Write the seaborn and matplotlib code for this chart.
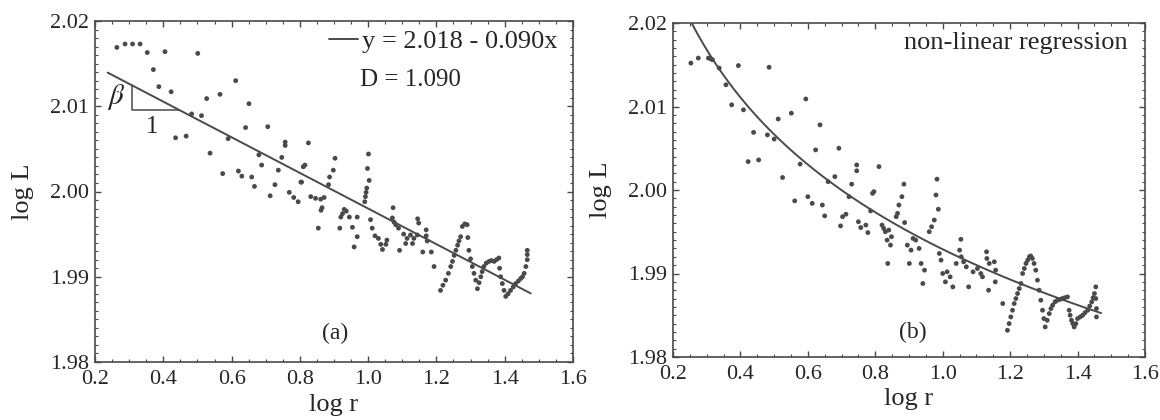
import numpy as np
import pandas as pd
import matplotlib
matplotlib.use("Agg")
import matplotlib.pyplot as plt
from matplotlib.ticker import MultipleLocator, FormatStrFormatter
import seaborn as sns

# panel (a): log r vs log L
xa = [0.264, 0.288, 0.310, 0.332, 0.353, 0.405, 0.501, 0.371, 0.612, 0.387,
      0.423, 0.527, 0.566, 0.651, 0.483, 0.512, 0.436, 0.467, 0.641, 0.706,
      0.590, 0.537, 0.757, 0.757, 0.680, 0.688, 0.747, 0.574, 0.620, 0.630,
      0.659, 0.667, 0.727, 0.713, 0.737, 0.769, 0.782, 0.795, 0.810, 0.803,
      0.825, 0.815, 0.805, 0.903, 0.898, 0.887, 0.884, 1.001, 0.998, 1.003,
      0.996, 0.994, 0.992, 0.990, 0.832, 0.846, 0.861, 0.871, 0.865, 0.862,
      0.854, 0.917, 0.930, 0.936, 0.925, 0.920, 0.945, 0.968, 0.954, 0.968,
      0.959, 1.007, 1.012, 1.020, 1.030, 1.037, 1.042, 1.055, 1.052, 1.073,
      1.071, 1.076, 1.081, 1.089, 1.092, 1.104, 1.114, 1.124, 1.134, 1.144,
      1.110, 1.130, 1.145, 1.148, 1.170, 1.170, 1.173, 1.160, 1.185, 1.193,
      1.212, 1.219, 1.227, 1.235, 1.242, 1.247, 1.252, 1.257, 1.262, 1.266,
      1.271, 1.276, 1.283, 1.290, 1.292, 1.295, 1.300, 1.305, 1.310, 1.315,
      1.320, 1.325, 1.330, 1.334, 1.339, 1.346, 1.354, 1.361, 1.369, 1.376,
      1.383, 1.385, 1.388, 1.393, 1.398, 1.403, 1.410, 1.417, 1.425, 1.432,
      1.440, 1.447, 1.452, 1.457, 1.462, 1.466, 1.466, 1.466]
ya = [2.0169, 2.0173, 2.0173, 2.0173, 2.0163, 2.0164, 2.0162, 2.0143, 2.0130, 2.0123,
      2.0117, 2.0109, 2.0114, 2.0103, 2.0091, 2.0089, 2.0063, 2.0065, 2.0075, 2.0076,
      2.0062, 2.0045, 2.0058, 2.0054, 2.0043, 2.0031, 2.0040, 2.0021, 2.0024, 2.0018,
      2.0017, 2.0006, 2.0008, 1.9995, 2.0025, 1.9999, 1.9993, 1.9988, 2.0029, 2.0011,
      2.0057, 2.0031, 2.0011, 2.0039, 2.0025, 2.0017, 2.0008, 2.0044, 2.0027, 2.0013,
      2.0004, 1.9999, 1.9994, 1.9988, 1.9994, 1.9992, 1.9991, 1.9993, 1.9981, 1.9978,
      1.9957, 1.9957, 1.9979, 1.9977, 1.9974, 1.9970, 1.9970, 1.9970, 1.9958, 1.9947,
      1.9935, 1.9967, 1.9957, 1.9948, 1.9945, 1.9938, 1.9932, 1.9943, 1.9938, 1.9981,
      1.9969, 1.9964, 1.9961, 1.9957, 1.9931, 1.9950, 1.9945, 1.9949, 1.9945, 1.9949,
      1.9939, 1.9939, 1.9968, 1.9963, 1.9955, 1.9948, 1.9942, 1.9929, 1.9929, 1.9912,
      1.9884, 1.9890, 1.9896, 1.9904, 1.9912, 1.9918, 1.9925, 1.9931, 1.9937, 1.9942,
      1.9947, 1.9959, 1.9962, 1.9961, 1.9946, 1.9931, 1.9921, 1.9912, 1.9904, 1.9896,
      1.9886, 1.9893, 1.9900, 1.9906, 1.9912, 1.9916, 1.9918, 1.9919, 1.9918, 1.9920,
      1.9922, 1.9910, 1.9900, 1.9892, 1.9884, 1.9877, 1.9880, 1.9884, 1.9888, 1.9892,
      1.9895, 1.9898, 1.9900, 1.9904, 1.9912, 1.9920, 1.9926, 1.9931]

# panel (b)
xb = [0.253, 0.275, 0.305, 0.312, 0.317, 0.337, 0.394, 0.485, 0.357, 0.374,
      0.409, 0.594, 0.551, 0.512, 0.636, 0.439, 0.480, 0.500, 0.623, 0.692,
      0.423, 0.454, 0.577, 0.745, 0.745, 0.811, 0.525, 0.680, 0.660, 0.730,
      0.796, 0.792, 0.722, 0.561, 0.600, 0.613, 0.643, 0.650, 0.786, 0.703,
      0.713, 0.697, 0.750, 0.757, 0.772, 0.778, 0.825, 0.820, 0.830, 0.840,
      0.848, 0.835, 0.845, 0.837, 0.885, 0.879, 0.870, 0.866, 0.862, 0.887,
      0.895, 0.906, 0.901, 0.912, 0.920, 0.930, 0.936, 0.946, 0.941, 0.983,
      0.980, 0.987, 0.975, 0.967, 0.960, 0.990, 0.995, 1.000, 1.013, 1.022,
      1.008, 1.030, 1.040, 1.054, 1.050, 1.055, 1.062, 1.070, 1.077, 1.090,
      1.103, 1.113, 1.118, 1.130, 1.131, 1.138, 1.136, 1.153, 1.157, 1.156,
      1.178, 1.192, 1.197, 1.202, 1.207, 1.212, 1.217, 1.222, 1.227, 1.232,
      1.237, 1.242, 1.247, 1.252, 1.257, 1.261, 1.266, 1.271, 1.276, 1.281,
      1.286, 1.291, 1.296, 1.300, 1.304, 1.310, 1.316, 1.321, 1.326, 1.333,
      1.340, 1.348, 1.355, 1.362, 1.370, 1.375, 1.378, 1.382, 1.386, 1.390,
      1.395, 1.400, 1.408, 1.415, 1.422, 1.430, 1.436, 1.442, 1.446, 1.450,
      1.454, 1.454, 1.456, 1.456]
yb = [2.0152, 2.0158, 2.0158, 2.0157, 2.0156, 2.0146, 2.0149, 2.0147, 2.0126, 2.0102,
      2.0096, 2.0109, 2.0092, 2.0085, 2.0078, 2.0069, 2.0066, 2.0061, 2.0048, 2.0050,
      2.0034, 2.0036, 2.0031, 2.0030, 2.0023, 2.0028, 2.0015, 2.0016, 2.0010, 2.0007,
      1.9998, 1.9996, 1.9992, 1.9987, 1.9992, 1.9984, 1.9982, 1.9969, 1.9975, 1.9968,
      1.9971, 1.9957, 1.9962, 1.9955, 1.9958, 1.9949, 1.9954, 1.9958, 1.9950, 1.9952,
      1.9944, 1.9940, 1.9934, 1.9912, 2.0007, 1.9992, 1.9982, 1.9972, 1.9968, 1.9961,
      1.9934, 1.9928, 1.9912, 1.9942, 1.9940, 1.9930, 1.9912, 1.9904, 1.9888, 2.0013,
      1.9994, 1.9977, 1.9964, 1.9956, 1.9950, 1.9924, 1.9916, 1.9900, 1.9902, 1.9896,
      1.9890, 1.9884, 1.9912, 1.9941, 1.9928, 1.9920, 1.9914, 1.9908, 1.9884, 1.9902,
      1.9906, 1.9900, 1.9896, 1.9926, 1.9918, 1.9912, 1.9880, 1.9914, 1.9904, 1.9890,
      1.9864, 1.9832, 1.9840, 1.9848, 1.9856, 1.9864, 1.9870, 1.9876, 1.9882, 1.9888,
      1.9900, 1.9906, 1.9912, 1.9916, 1.9920, 1.9921, 1.9918, 1.9912, 1.9904, 1.9892,
      1.9880, 1.9868, 1.9856, 1.9846, 1.9836, 1.9844, 1.9852, 1.9858, 1.9862, 1.9866,
      1.9868, 1.9869, 1.9870, 1.9871, 1.9872, 1.9856, 1.9850, 1.9844, 1.9840, 1.9836,
      1.9840, 1.9846, 1.9848, 1.9850, 1.9853, 1.9856, 1.9861, 1.9866, 1.9871, 1.9876,
      1.9884, 1.9870, 1.9858, 1.9848]

# fitted curves as drawn
lin_intercept, lin_slope = 2.0189, -0.0209
lin_range = (0.237, 1.476)
log_intercept, log_slope = 1.9929, -0.01985
log_range = (0.24, 1.47)

xticks = [0.2, 0.4, 0.6, 0.8, 1.0, 1.2, 1.4, 1.6]
yticks = [1.98, 1.99, 2.00, 2.01, 2.02]

sns.set_style("ticks")
plt.rcParams['font.family'] = ['Liberation Serif', 'DejaVu Serif']
plt.rcParams['mathtext.fontset'] = 'stix'

ink = '#4a4a4a'
txt = '#262626'
fig = plt.figure(figsize=(11.6, 4.2), dpi=100)
ax1 = fig.add_axes([95 / 1160, 58 / 420, 478 / 1160, 341 / 420])
ax2 = fig.add_axes([673 / 1160, 63 / 420, 472 / 1160, 334 / 420])

da = pd.DataFrame({'x': xa, 'y': ya})
db = pd.DataFrame({'x': xb, 'y': yb})

sns.scatterplot(data=da, x='x', y='y', ax=ax1, s=12, color=ink, edgecolor='none', legend=False)
gx = np.linspace(*lin_range, 50)
line = pd.DataFrame({'x': gx, 'y': lin_intercept + lin_slope * gx})
sns.lineplot(data=line, x='x', y='y', ax=ax1, color=ink, lw=1.4,
             label='y = 2.018 - 0.090x')

sns.scatterplot(data=db, x='x', y='y', ax=ax2, s=12, color=ink, edgecolor='none', legend=False)
cx = np.linspace(*log_range, 200)
curve = pd.DataFrame({'x': cx, 'y': log_intercept + log_slope * np.log(cx)})
sns.lineplot(data=curve, x='x', y='y', ax=ax2, color=ink, lw=1.4)

# slope triangle
tx0, ty0 = 0.308, 2.0096
tx1 = (ty0 - lin_intercept) / lin_slope
ax1.plot([tx0, tx0, tx1], [lin_intercept + lin_slope * tx0, ty0, ty0], color=ink, lw=1.1)
ax1.text(0.262, 2.0111, r'$\beta$', fontsize=21, ha='center', va='center', color=txt)
ax1.text(0.366, 2.0076, '1', fontsize=18, ha='center', va='center', color=txt)

leg = ax1.legend(loc='upper right', bbox_to_anchor=(1.0, 1.02), frameon=False,
                 fontsize=19, handlelength=1.1, handletextpad=0.15, borderaxespad=0.2)
for t in leg.get_texts():
    t.set_color(txt)
ax1.text(0.659, 0.827, 'D = 1.090', transform=ax1.transAxes, fontsize=18,
         ha='center', va='center', color=txt)
ax1.text(0.502, 0.085, '(a)', transform=ax1.transAxes, fontsize=17,
         ha='center', va='center', color=txt)
ax2.text(0.964, 0.94, 'non-linear regression', transform=ax2.transAxes, fontsize=19,
         ha='right', va='center', color=txt)
ax2.text(0.508, 0.072, '(b)', transform=ax2.transAxes, fontsize=17,
         ha='center', va='center', color=txt)

for ax in (ax1, ax2):
    ax.set_xlim(0.2, 1.6)
    ax.set_ylim(1.98, 2.02)
    ax.set_xticks(xticks)
    ax.set_yticks(yticks)
    ax.xaxis.set_major_formatter(FormatStrFormatter('%.1f'))
    ax.yaxis.set_major_formatter(FormatStrFormatter('%.2f'))
    ax.xaxis.set_minor_locator(MultipleLocator(0.05))
    ax.yaxis.set_minor_locator(MultipleLocator(0.001))
    ax.tick_params(which='both', direction='in', top=True, right=True,
                   colors=ink, labelcolor=txt)
    ax.tick_params(which='major', length=4, width=1, labelsize=16)
    ax.tick_params(axis='x', which='major', pad=6)
    ax.tick_params(axis='y', which='major', pad=4)
    ax.tick_params(which='minor', length=2, width=0.8)
    for sp in ax.spines.values():
        sp.set_color(ink)
        sp.set_linewidth(1.2)
    ax.set_xlabel('log r', fontsize=19, labelpad=3, color=txt)
    ax.set_ylabel('log L', fontsize=19, labelpad=12, color=txt)

fig.savefig('out.png', dpi=100)
